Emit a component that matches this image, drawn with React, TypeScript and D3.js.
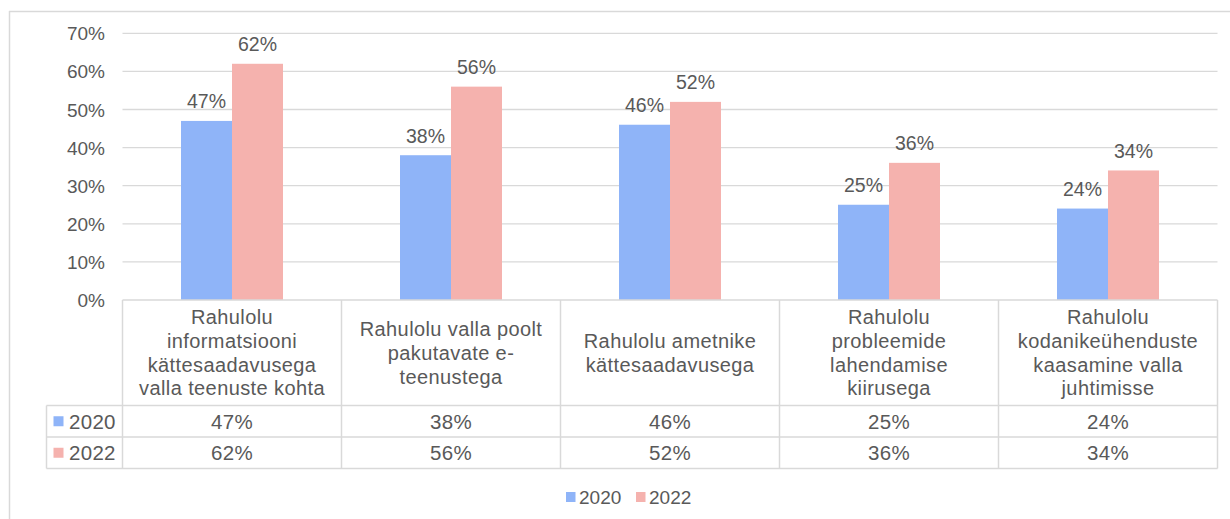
import * as d3 from "d3";

// chart data
const categoryLines = [
  ["Rahulolu", "informatsiooni", "kättesaadavusega", "valla teenuste kohta"],
  ["Rahulolu valla poolt", "pakutavate e-", "teenustega"],
  ["Rahulolu ametnike", "kättesaadavusega"],
  ["Rahulolu", "probleemide", "lahendamise", "kiirusega"],
  ["Rahulolu", "kodanikeühenduste", "kaasamine valla", "juhtimisse"],
];
const seriesNames = ["2020", "2022"];
const values2020 = [0.47, 0.38, 0.46, 0.25, 0.24];
const values2022 = [0.62, 0.56, 0.52, 0.36, 0.34];
const yTicks = [0, 0.1, 0.2, 0.3, 0.4, 0.5, 0.6, 0.7];
const seriesColors = ["#8FB4F8", "#F5B2AE"];

const W = 1230;
const H = 519;
const FONT = "'Liberation Sans', Arial, sans-serif";
const TEXT = "#595959";
const GRID = "#D9D9D9";

const plotLeft = 122.5;
const plotRight = 1217.5;
const plotTop = 33.3;
const plotBottom = 300;
const headerBottom = 405.5;
const row1Bottom = 437;
const row2Bottom = 468.5;
const tableLeft = 46.5;

export default function App() {
  const series = [values2020, values2022];
  const fmt = d3.format(".0%");

  const x = d3
    .scaleBand<number>()
    .domain(categoryLines.map((_, i) => i))
    .range([plotLeft, plotRight]);
  const bw = x.bandwidth();
  const xs = d3
    .scaleBand<number>()
    .domain(seriesNames.map((_, i) => i))
    .range([0, bw])
    .paddingInner(0)
    .paddingOuter(1.147);
  const y = d3.scaleLinear().domain([0, 0.7]).range([plotBottom, plotTop]);

  const rowTops = [headerBottom, row1Bottom];
  const rowBottoms = [row1Bottom, row2Bottom];
  const lineH = 23.8;

  return (
    <svg
      width={W}
      height={H}
      style={{ position: "fixed", left: 0, top: 0, background: "#fff" }}
      fontFamily={FONT}
    >
      {/* outer frame */}
      <line x1={9.5} x2={9.5} y1={11} y2={H} stroke={GRID} strokeWidth={1.5} />
      <line x1={9} x2={W} y1={11.5} y2={11.5} stroke={GRID} strokeWidth={1.5} />

      {/* gridlines + y labels */}
      {yTicks.map((t) => (
        <g key={t}>
          {t > 0 && (
            <line x1={plotLeft} x2={plotRight} y1={y(t)} y2={y(t)} stroke={GRID} strokeWidth={1.3} />
          )}
          <text x={105} y={y(t) + 7} textAnchor="end" fontSize={19} fill={TEXT}>
            {fmt(t)}
          </text>
        </g>
      ))}

      {/* bars */}
      {series.map((vals, s) =>
        vals.map((v, i) => (
          <rect
            key={`${s}-${i}`}
            x={(x(i) ?? 0) + (xs(s) ?? 0)}
            y={y(v)}
            width={xs.bandwidth()}
            height={y(0) - y(v)}
            fill={seriesColors[s]}
          />
        ))
      )}

      {/* data labels */}
      {series.map((vals, s) =>
        vals.map((v, i) => (
          <text
            key={`l${s}-${i}`}
            x={(x(i) ?? 0) + (xs(s) ?? 0) + xs.bandwidth() / 2}
            y={y(v) - 12.5}
            textAnchor="middle"
            fontSize={19.5}
            fill={TEXT}
          >
            {fmt(v)}
          </text>
        ))
      )}

      {/* data table lines */}
      <g stroke={GRID} strokeWidth={1.5}>
        <line x1={plotLeft} x2={plotRight} y1={plotBottom} y2={plotBottom} />
        <line x1={tableLeft} x2={plotRight} y1={headerBottom} y2={headerBottom} />
        <line x1={tableLeft} x2={plotRight} y1={row1Bottom} y2={row1Bottom} />
        <line x1={tableLeft} x2={plotRight} y1={row2Bottom} y2={row2Bottom} />
        <line x1={tableLeft} x2={tableLeft} y1={headerBottom} y2={row2Bottom} />
        {categoryLines.map((_, i) => (
          <line key={i} x1={x(i)} x2={x(i)} y1={plotBottom} y2={row2Bottom} />
        ))}
        <line x1={plotRight} x2={plotRight} y1={plotBottom} y2={row2Bottom} />
      </g>

      {/* category headers */}
      {categoryLines.map((lines, i) => {
        const cx = (x(i) ?? 0) + bw / 2;
        const mid = (plotBottom + headerBottom) / 2 + 7;
        const first = mid - ((lines.length - 1) * lineH) / 2;
        return (
          <text key={i} textAnchor="middle" fontSize={20} fill={TEXT} letterSpacing={0.4}>
            {lines.map((ln, k) => (
              <tspan key={k} x={cx} y={first + k * lineH}>
                {ln}
              </tspan>
            ))}
          </text>
        );
      })}

      {/* table rows */}
      {series.map((vals, s) => {
        const cy = (rowTops[s] + rowBottoms[s]) / 2;
        return (
          <g key={`row${s}`}>
            <rect x={53.5} y={cy - 5} width={10} height={10} fill={seriesColors[s]} />
            <text x={69} y={cy + 7.3} fontSize={20.5} fill={TEXT} letterSpacing={0.3}>
              {seriesNames[s]}
            </text>
            {vals.map((v, i) => (
              <text
                key={i}
                x={(x(i) ?? 0) + bw / 2}
                y={cy + 7.3}
                textAnchor="middle"
                fontSize={20.5}
                fill={TEXT}
                letterSpacing={0.3}
              >
                {fmt(v)}
              </text>
            ))}
          </g>
        );
      })}

      {/* legend */}
      {seriesNames.map((n, s) => {
        const lx = 566 + s * 70;
        return (
          <g key={n}>
            <rect x={lx} y={492} width={9.5} height={10} fill={seriesColors[s]} />
            <text x={lx + 13} y={503.5} fontSize={19} fill={TEXT}>
              {n}
            </text>
          </g>
        );
      })}
    </svg>
  );
}
